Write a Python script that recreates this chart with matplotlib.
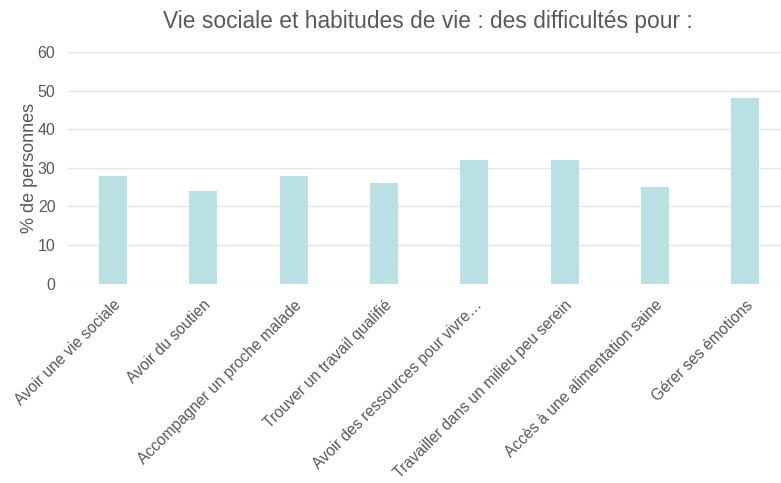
import matplotlib
matplotlib.use("Agg")
import matplotlib.pyplot as plt
import numpy as np

categories = [
    "Avoir une vie sociale",
    "Avoir du soutien",
    "Accompagner un proche malade",
    "Trouver un travail qualifié",
    "Avoir des ressources pour vivre…",
    "Travailler dans un milieu peu serein",
    "Accès à une alimentation saine",
    "Gérer ses émotions",
]
values = [28, 24, 28, 26, 32, 32, 25, 48]
yticks = [0, 10, 20, 30, 40, 50, 60]

BAR, GRID, TXT = "#b9e0e3", "#e3e3e3", "#595959"

plt.rcParams["font.family"] = ["Liberation Sans", "DejaVu Sans"]

fig = plt.figure(figsize=(7.81, 4.83), dpi=100)
# right edge runs a bit past the canvas, as in the source image
ax = fig.add_axes([0.087, 0.413, 0.925, 0.479])

x = np.arange(len(categories))
ax.bar(x, values, width=0.31, color=BAR, zorder=2)

ax.set_xlim(-0.5, len(categories) - 0.5)
ax.set_ylim(0, 60)
ax.set_yticks(yticks)
ax.set_yticklabels([str(t) for t in yticks], fontsize=11.5, color=TXT)
ax.grid(axis="y", color=GRID, linewidth=1, zorder=0)
ax.set_xticks(x)
ax.set_xticklabels(categories, rotation=45, ha="right", rotation_mode="anchor",
                   fontsize=11.2, color=TXT)
ax.tick_params(axis="both", length=0)
ax.tick_params(axis="y", pad=9)
ax.tick_params(axis="x", pad=10)
for s in ax.spines.values():
    s.set_visible(False)

ax.set_ylabel("% de personnes", fontsize=13, color=TXT, labelpad=0)
fig.text(0.548, 0.955, "Vie sociale et habitudes de vie : des difficultés pour :",
         ha="center", va="center", fontsize=16.4, color=TXT)

fig.savefig("out.png", dpi=100, facecolor="white")
